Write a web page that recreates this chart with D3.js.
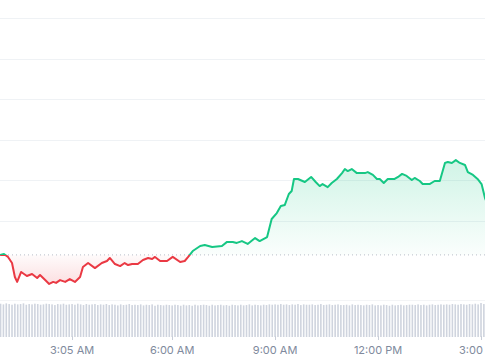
<!DOCTYPE html>
<html>
<head>
<meta charset="utf-8">
<script src="https://cdn.jsdelivr.net/npm/d3@7"></script>
<style>
  body { margin: 0; background: #fff; }
  svg { display: block; font-family: Inter, "Noto Sans", sans-serif; }
</style>
</head>
<body>
<svg id="chart"></svg>
<script>
const WIDTH = 485;
const HEIGHT = 360;

// price samples (time of day, price)
const times = ["00:59","01:06","01:13","01:20","01:25","01:29","01:36","01:46","01:55","02:04","02:09","02:18","02:25","02:32","02:37","02:44","02:53","03:01","03:10","03:19","03:24","03:33","03:45","03:57","04:06","04:11","04:20","04:29","04:37","04:43","04:50","05:00","05:09","05:18","05:25","05:30","05:39","05:51","06:01","06:14","06:22","06:28","06:36","06:49","06:57","07:10","07:27","07:36","07:46","07:53","08:02","08:12","08:25","08:33","08:46","08:54","09:03","09:10","09:17","09:24","09:29","09:33","09:40","09:52","10:03","10:11","10:18","10:23","10:32","10:39","10:48","10:57","11:02","11:07","11:14","11:23","11:37","11:42","11:51","11:58","12:03","12:10","12:17","12:29","12:35","12:42","12:50","12:59","13:04","13:13","13:18","13:30","13:39","13:48","13:57","14:02","14:09","14:16","14:23","14:32","14:37","14:46","14:54","15:01","15:07","15:12"];
const prices = [3403.3,3403.7,3402.3,3399.3,3392.4,3390.0,3394.9,3392.9,3393.9,3391.9,3393.4,3390.9,3389.0,3390.0,3389.5,3390.9,3390.0,3391.4,3390.0,3392.4,3397.3,3399.3,3396.8,3399.3,3400.3,3401.8,3398.8,3397.8,3399.3,3398.3,3398.8,3398.8,3400.8,3401.8,3401.3,3402.3,3400.3,3400.3,3402.3,3399.8,3400.3,3402.3,3405.2,3407.7,3408.2,3407.2,3407.7,3409.7,3409.7,3409.2,3410.1,3408.7,3411.6,3410.1,3412.1,3421.0,3423.9,3427.4,3427.9,3433.3,3434.8,3440.7,3440.7,3439.2,3441.7,3439.2,3437.2,3438.2,3436.7,3438.7,3440.7,3443.6,3445.6,3444.6,3445.6,3443.6,3443.6,3444.1,3442.7,3440.7,3440.7,3438.7,3440.7,3440.7,3441.7,3443.2,3442.2,3440.2,3441.2,3439.7,3438.2,3438.2,3439.7,3439.7,3448.6,3449.1,3448.6,3450.0,3448.6,3447.6,3444.1,3442.7,3440.7,3438.2,3431.3,3427.9];

// 5 minute volume bars starting 01:00
const volumeStart = "01:00";
const volumes = [
  99,97,100,98,96,99,97,98,100,96,98,97,
  99,98,96,97,99,98,97,95,98,97,99,96,
  97,98,96,99,97,95,98,96,97,98,95,97,
  96,98,95,97,96,94,97,95,96,98,95,96,
  95,97,94,96,95,97,93,96,95,94,96,95,
  94,96,95,93,96,94,95,93,96,94,95,96,
  95,93,96,94,95,96,94,95,93,96,95,94,
  96,94,95,97,94,96,95,94,96,95,97,96,
  97,96,98,96,97,95,97,96,98,95,97,96,
  96,97,95,96,98,95,96,97,95,96,97,95,
  95,96,94,97,95,96,95,94,96,95,97,94,
  95,94,96,95,93,96,94,95,96,94,95,96,
  96,95,97,95,96,94,96,97,95,96,97,96,
  97,96,98,97,96,98,97,96,98,97,99,97,
  101,98
];

const gridValues = [3420, 3440, 3460, 3480, 3500, 3520];
const tickTimes = ["03:05", "06:00", "09:00", "12:00", "15:00"];

const parse = d3.timeParse("%H:%M");
const fmt = d3.timeFormat("%-I:%M %p");

const data = times.map((t, i) => ({ t: parse(t), p: prices[i] }));
const v0 = parse(volumeStart);
const volData = volumes.map((v, i) => ({ t: d3.timeMinute.offset(v0, i * 5), v: v }));
const openPrice = prices[0];

const x = d3.scaleTime().domain([parse("00:59"), parse("15:07")]).range([0, WIDTH]);
const y = d3.scaleLinear().domain([3400, 3540]).range([261.6, -22.6]);
const vol = d3.scaleLinear().domain([0, 110]).range([337, 300]);

const GREEN = "#16c784";
const RED = "#ea3943";

const svg = d3.select("#chart").attr("width", WIDTH).attr("height", HEIGHT);
const defs = svg.append("defs");

const base = y(openPrice);

defs.append("clipPath").attr("id", "above")
  .append("rect").attr("x", 0).attr("y", 0).attr("width", WIDTH).attr("height", base);
defs.append("clipPath").attr("id", "below")
  .append("rect").attr("x", 0).attr("y", base).attr("width", WIDTH).attr("height", 300 - base);

const gGreen = defs.append("linearGradient").attr("id", "gGreen")
  .attr("gradientUnits", "userSpaceOnUse")
  .attr("x1", 0).attr("x2", 0).attr("y1", y(3450)).attr("y2", base);
gGreen.append("stop").attr("offset", 0).attr("stop-color", GREEN).attr("stop-opacity", 0.2);
gGreen.append("stop").attr("offset", 1).attr("stop-color", GREEN).attr("stop-opacity", 0.02);

const gRed = defs.append("linearGradient").attr("id", "gRed")
  .attr("gradientUnits", "userSpaceOnUse")
  .attr("x1", 0).attr("x2", 0).attr("y1", base).attr("y2", y(3389));
gRed.append("stop").attr("offset", 0).attr("stop-color", RED).attr("stop-opacity", 0.02);
gRed.append("stop").attr("offset", 1).attr("stop-color", RED).attr("stop-opacity", 0.16);

// grid
svg.append("g").selectAll("line").data(gridValues).join("line")
  .attr("x1", 0).attr("x2", WIDTH)
  .attr("y1", d => Math.round(y(d)) + 0.5).attr("y2", d => Math.round(y(d)) + 0.5)
  .attr("stroke", "#eff2f5");

svg.append("line")
  .attr("x1", 0).attr("x2", WIDTH).attr("y1", 300.5).attr("y2", 300.5)
  .attr("stroke", "#f3f4f6");

// volume
svg.append("g").selectAll("rect").data(volData).join("rect")
  .attr("x", d => x(d.t) - 0.8)
  .attr("width", 1.6)
  .attr("y", d => vol(d.v))
  .attr("height", d => vol(0) - vol(d.v))
  .attr("fill", "#cfd4de");

// price area + line
const area = d3.area().x(d => x(d.t)).y0(base).y1(d => y(d.p));
const line = d3.line().x(d => x(d.t)).y(d => y(d.p));

svg.append("path").datum(data).attr("d", area).attr("fill", "url(#gGreen)").attr("clip-path", "url(#above)");
svg.append("path").datum(data).attr("d", area).attr("fill", "url(#gRed)").attr("clip-path", "url(#below)");

svg.append("line")
  .attr("x1", 0).attr("x2", WIDTH).attr("y1", base).attr("y2", base)
  .attr("stroke", "#b8bdc8").attr("stroke-dasharray", "1,3");

svg.append("path").datum(data).attr("d", line)
  .attr("fill", "none").attr("stroke", GREEN).attr("stroke-width", 2)
  .attr("stroke-linejoin", "round").attr("clip-path", "url(#above)");
svg.append("path").datum(data).attr("d", line)
  .attr("fill", "none").attr("stroke", RED).attr("stroke-width", 2)
  .attr("stroke-linejoin", "round").attr("clip-path", "url(#below)");

// x axis
const ticks = tickTimes.map(parse);
const axis = svg.append("g");
axis.selectAll("line").data(ticks).join("line")
  .attr("x1", d => Math.round(x(d)) + 0.5).attr("x2", d => Math.round(x(d)) + 0.5)
  .attr("y1", 336).attr("y2", 340)
  .attr("stroke", "#c9ced8");
axis.selectAll("text").data(ticks).join("text")
  .attr("x", d => x(d)).attr("y", 354)
  .attr("text-anchor", "middle")
  .attr("font-size", 11)
  .attr("fill", "#808a9d")
  .text(d => fmt(d));
</script>
</body>
</html>
